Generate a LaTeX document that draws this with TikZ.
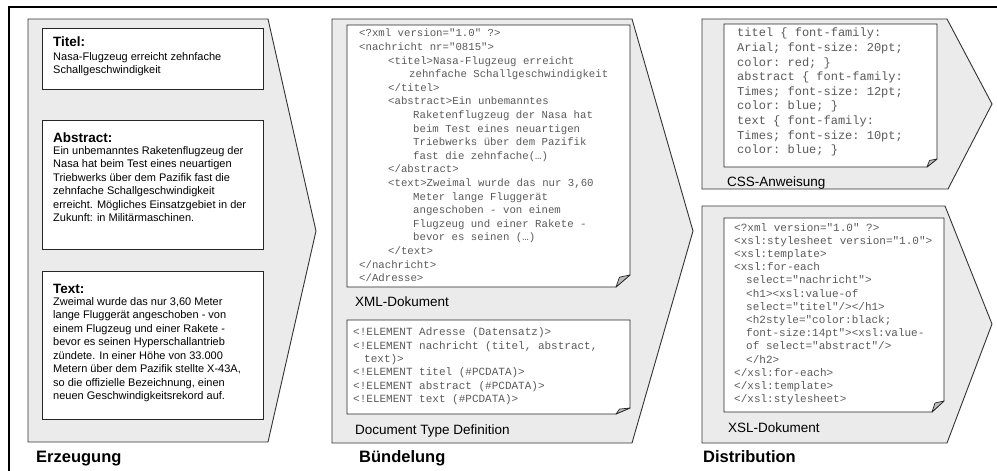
\documentclass[tikz,border=0pt]{standalone}
\usepackage{fontspec}
\setmainfont{Liberation Sans}
\setmonofont{Liberation Mono}
\definecolor{chevfill}{HTML}{EBEBEB}
\definecolor{chevline}{HTML}{333333}
\definecolor{codecol}{HTML}{5A5A5A}
\definecolor{curlfill}{HTML}{BDBDBD}
\newcommand\docbox[6]{%
  \filldraw[plainbox] (#1,#2) -- (#3,#2) -- (#3,#4-#6) -- (#3-#5,#4) -- (#1,#4) -- cycle;
  \filldraw[curl] (#3,#4-#6) -- (#3-0.75*#5,#4-0.82*#6) -- (#3-#5,#4) -- cycle;
}
\tikzset{
  frame/.style={draw=black, line width=1.2pt},
  chev/.style={fill=chevfill, draw=chevline, line width=0.9pt, line join=miter},
  plainbox/.style={fill=white, draw=black!85, line width=0.8pt},
  curl/.style={fill=curlfill, draw=black!85, line width=0.7pt, line join=round},
  head/.style={anchor=base west, inner sep=0pt, font=\bfseries\fontsize{13.5}{16}\selectfont},
  body/.style={anchor=north west, inner sep=0pt, align=left,
    font=\fontsize{11}{13.5}\selectfont, execute at begin node={\rule{0pt}{12pt}}},
  codebase/.style={anchor=north west, inner sep=0pt, align=left, text=codecol,
    execute at begin node={\rule{0pt}{12pt}}},
  xmlcode/.style={codebase, font=\ttfamily\fontsize{10.7}{13.6}\selectfont},
  dtdcode/.style={codebase, font=\ttfamily\fontsize{11}{13.4}\selectfont},
  csscode/.style={codebase, font=\ttfamily\fontsize{12}{14.6}\selectfont},
  xslcode/.style={codebase, font=\ttfamily\fontsize{11}{13.2}\selectfont},
  sublabel/.style={anchor=base west, inner sep=0pt, font=\fontsize{13.5}{16}\selectfont},
  mainlabel/.style={anchor=base west, inner sep=0pt, font=\bfseries\fontsize{16.5}{20}\selectfont},
}
\begin{document}
\begin{tikzpicture}[x=1pt,y=-1pt]
\useasboundingbox (0,0) rectangle (997,471);
% outer frame
\draw[frame] (9,471) -- (9,7) -- (997,7);
% chevrons
\filldraw[chev] (28,19) -- (268,19) -- (316,231) -- (268,442) -- (28,442) -- cycle;
\filldraw[chev] (332,19) -- (632,19) -- (693,231) -- (632,443) -- (332,443) -- cycle;
\filldraw[chev] (702,19) -- (947,19) -- (992,104) -- (948,189) -- (702,189) -- cycle;
\filldraw[chev] (702,206) -- (945,206) -- (992,324) -- (947,443) -- (702,443) -- cycle;
% Erzeugung boxes
\filldraw[plainbox] (42,28) rectangle (263,89);
\filldraw[plainbox] (42,120) rectangle (263,249);
\filldraw[plainbox] (42,271) rectangle (263,419);
\node[head] (titelh) at (53,46) {Titel:};
\node[body] (titelb) at (53,64-12) {Nasa-Flugzeug erreicht zehnfache\\Schallgeschwindigkeit};
\node[head] (abstrh) at (53,142) {Abstract:};
\node[body] (abstrb) at (53,158-12) {Ein unbemanntes Raketenflugzeug der\\
Nasa hat beim Test eines neuartigen\\
Triebwerks über dem Pazifik fast die\\
zehnfache Schallgeschwindigkeit\\
erreicht. Mögliches Einsatzgebiet in der\\
Zukunft: in Militärmaschinen.};
\node[head] (texth) at (53,293) {Text:};
\node[body] (textb) at (53,309-12) {Zweimal wurde das nur 3,60 Meter\\
lange Fluggerät angeschoben - von\\
einem Flugzeug und einer Rakete -\\
bevor es seinen Hyperschallantrieb\\
zündete. In einer Höhe von 33.000\\
Metern über dem Pazifik stellte X-43A,\\
so die offizielle Bezeichnung, einen\\
neuen Geschwindigkeitsrekord auf.};
% Buendelung boxes
\docbox{347}{25}{630}{287}{14}{12}
\docbox{347}{320}{630}{414}{14}{6}
\node[xmlcode] (xml) at (359,41-12) {<?xml version="1.0" ?>\\
<nachricht nr="0815">\\
\hspace*{29pt}<titel>Nasa-Flugzeug erreicht\\
\hspace*{50pt}zehnfache Schallgeschwindigkeit\\
\hspace*{29pt}</titel>\\
\hspace*{29pt}<abstract>Ein unbemanntes\\
\hspace*{54pt}Raketenflugzeug der Nasa hat\\
\hspace*{54pt}beim Test eines neuartigen\\
\hspace*{54pt}Triebwerks über dem Pazifik\\
\hspace*{54pt}fast die zehnfache(…)\\
\hspace*{29pt}</abstract>\\
\hspace*{29pt}<text>Zweimal wurde das nur 3,60\\
\hspace*{54pt}Meter lange Fluggerät\\
\hspace*{54pt}angeschoben - von einem\\
\hspace*{54pt}Flugzeug und einer Rakete -\\
\hspace*{54pt}bevor es seinen (…)\\
\hspace*{29pt}</text>\\
</nachricht>\\
</Adresse>};
\node[sublabel] (xmll) at (355,306) {XML-Dokument};
\node[dtdcode] (dtd) at (353,339.5-12) {<!ELEMENT Adresse (Datensatz)>\\
<!ELEMENT nachricht (titel, abstract,\\
\hspace*{11pt}text)>\\
<!ELEMENT titel (\#PCDATA)>\\
<!ELEMENT abstract (\#PCDATA)>\\
<!ELEMENT text (\#PCDATA)>};
\node[sublabel] (dtdl) at (355,434.5) {Document Type Definition};
% Distribution boxes
\docbox{724}{24}{937}{167}{10}{8}
\docbox{724}{218}{944}{412}{12}{11}
\node[csscode] (css) at (737,40-12) {titel \{ font-family:\\
Arial; font-size: 20pt;\\
color: red; \}\\
abstract \{ font-family:\\
Times; font-size: 12pt;\\
color: blue; \}\\
text \{ font-family:\\
Times; font-size: 10pt;\\
color: blue; \}};
\node[sublabel] (cssl) at (727,186.5) {CSS-Anweisung};
\node[xslcode] (xsl) at (734,235-12) {<?xml version="1.0" ?>\\
<xsl:stylesheet version="1.0">\\
<xsl:template>\\
<xsl:for-each\\
\hspace*{12pt}select="nachricht">\\
\hspace*{12pt}<h1><xsl:value-of\\
\hspace*{12pt}select="titel"/></h1>\\
\hspace*{12pt}<h2style="color:black;\\
\hspace*{12pt}font-size:14pt"><xsl:value-\\
\hspace*{12pt}of select="abstract"/>\\
\hspace*{12pt}</h2>\\
</xsl:for-each>\\
</xsl:template>\\
</xsl:stylesheet>};
\node[sublabel] (xsll) at (728,432) {XSL-Dokument};
% main labels
\node[mainlabel] (erz) at (36,462) {Erzeugung};
\node[mainlabel] (bue) at (359,462) {Bündelung};
\node[mainlabel] (dis) at (703,462) {Distribution};
\end{tikzpicture}
\end{document}
